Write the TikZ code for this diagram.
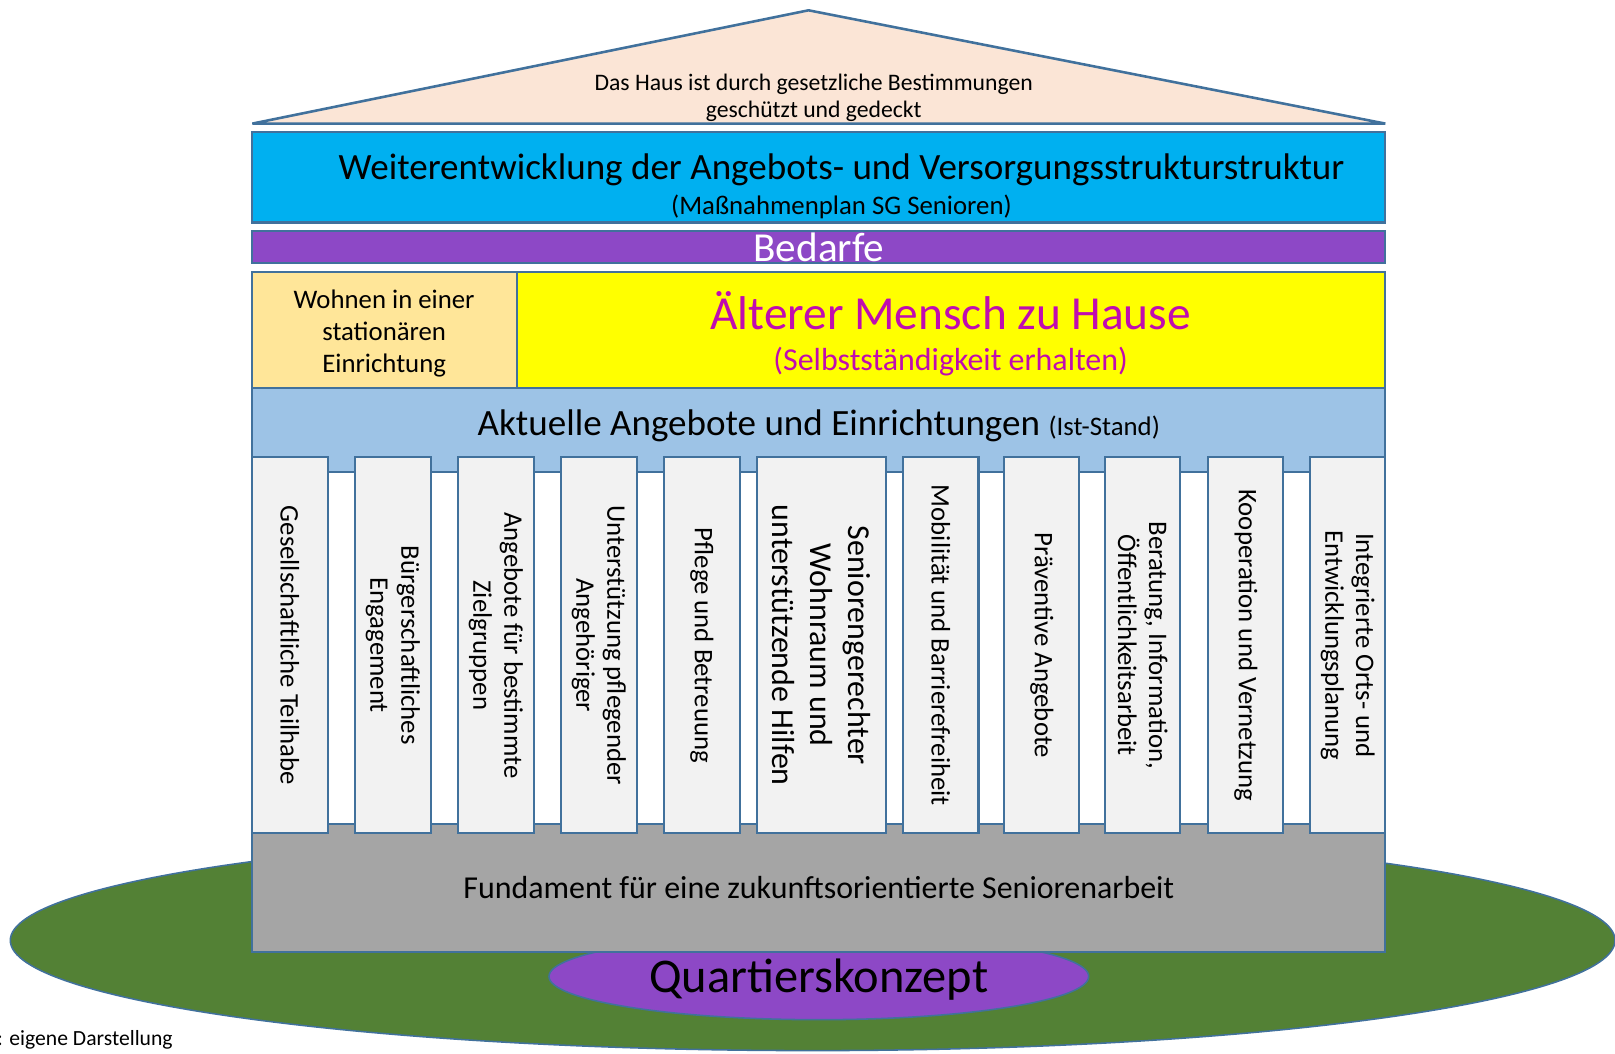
\documentclass[tikz,border=0pt]{standalone}
\usepackage{fontspec}
\setmainfont{Carlito}
\usepackage{tikz}

\definecolor{rand}{HTML}{41719C}
\definecolor{dach}{HTML}{FBE5D6}
\definecolor{hblau}{HTML}{00B0F0}
\definecolor{lila}{HTML}{8D48C6}
\definecolor{wohnen}{HTML}{FFE699}
\definecolor{gelb}{HTML}{FFFF00}
\definecolor{magenta1}{HTML}{C00CB0}
\definecolor{mblau}{HTML}{9DC3E6}
\definecolor{saeule}{HTML}{F2F2F2}
\definecolor{grau}{HTML}{A5A5A5}
\definecolor{wiese}{HTML}{538135}

\tikzset{
  box/.style={draw=rand, line width=2pt},
  pillar/.style={box, fill=saeule, rotate=-90, minimum width=365pt, minimum height=73pt,
    inner sep=0pt, align=center, font=\fontsize{26}{30}\selectfont},
  fs/.style={font=\fontsize{#1}{#1}\selectfont}
}

\begin{document}
\begin{tikzpicture} [x=1pt, y=-1pt]

\useasboundingbox (0,0) rectangle (1568,1023.3);

% Boden
\draw [box, line width=1.5pt, fill=wiese] (789,913) ellipse (779pt and 107pt);
\draw [box, line width=1.5pt, fill=lila] (795,948) ellipse (262pt and 42pt);
\node [fs=47] (quartier) at (795,951) {Quartierskonzept};

% Dach
\draw [box, line width=2.5pt, fill=dach, line join=bevel] (245,120) -- (785,10) -- (1345,120) -- cycle;
\node [align=center, font=\fontsize{23}{27}\selectfont] (schutz) at (790,95)
  {Das Haus ist durch gesetzliche Bestimmungen\\geschützt und gedeckt};

% Massnahmen und Bedarfe
\draw [box, fill=hblau] (245,128) rectangle (1345,216);
\node [fs=36] (weiter) at (817,165) {Weiterentwicklung der Angebots- und Versorgungsstrukturstruktur};
\node [fs=26] (plan) at (817,201) {(Maßnahmenplan SG Senioren)};

\draw [box, fill=lila] (245,224) rectangle (1345,255);
\node [fs=40, white] (bedarfe) at (795,240) {Bedarfe};

% Wohnen
\draw [box, fill=wohnen] (245,264) rectangle (502,377);
\node [align=center, font=\fontsize{26}{31}\selectfont] (stationaer) at (373,324)
  {Wohnen in einer\\stationären\\Einrichtung};
\draw [box, fill=gelb] (502,264) rectangle (1345,377);
\node [fs=46, magenta1] (mensch) at (923,302) {Älterer Mensch zu Hause};
\node [fs=31, magenta1] (selbst) at (923,351) {(Selbstständigkeit erhalten)};

% Ist-Stand
\draw [box, fill=mblau] (245,377) rectangle (1345,458);
\node [fs=36] (aktuell) at (795,413) {Aktuelle Angebote und Einrichtungen {\fontsize{26}{26}\selectfont(Ist-Stand)}};

\fill [white] (245,459) rectangle (1345,800);
\draw [box, fill=grau] (245,800) rectangle (1345,924);
\node [fs=31] (fundament) at (795,862) {Fundament für eine zukunftsorientierte Seniorenarbeit};

% Saeulen
\node [pillar] (teilhabe) at (281.5,626.5) {Gesellschaftliche Teilhabe};
\node [pillar] (engagement) at (381.5,626.5) {Bürgerschaftliches\\Engagement};
\node [pillar] (zielgruppen) at (481.5,626.5) {Angebote für bestimmte\\Zielgruppen};
\node [pillar] (angehoerige) at (581.5,626.5) {Unterstützung pflegender\\Angehöriger};
\node [pillar] (pflege) at (681.5,626.5) {Pflege und Betreuung};
\node [pillar, minimum height=125pt, font=\fontsize{31}{37}\selectfont] (wohnraum) at (797.5,626.5)
  {Seniorengerechter\\Wohnraum und\\unterstützende Hilfen};
\node [pillar] (mobil) at (913.5,626.5) {Mobilität und Barrierefreiheit};
\node [pillar] (praevention) at (1011.5,626.5) {Präventive Angebote};
\node [pillar] (beratung) at (1109.5,626.5) {Beratung, Information,\\Öffentlichkeitsarbeit};
\node [pillar] (kooperation) at (1209.5,626.5) {Kooperation und Vernetzung};
\node [pillar] (planung) at (1308.5,626.5) {Integrierte Orts- und\\Entwicklungsplanung};

\node [fs=21, anchor=west, inner sep=0pt] (quelle) at (-3,1010) {: eigene Darstellung};

\end{tikzpicture}
\end{document}
